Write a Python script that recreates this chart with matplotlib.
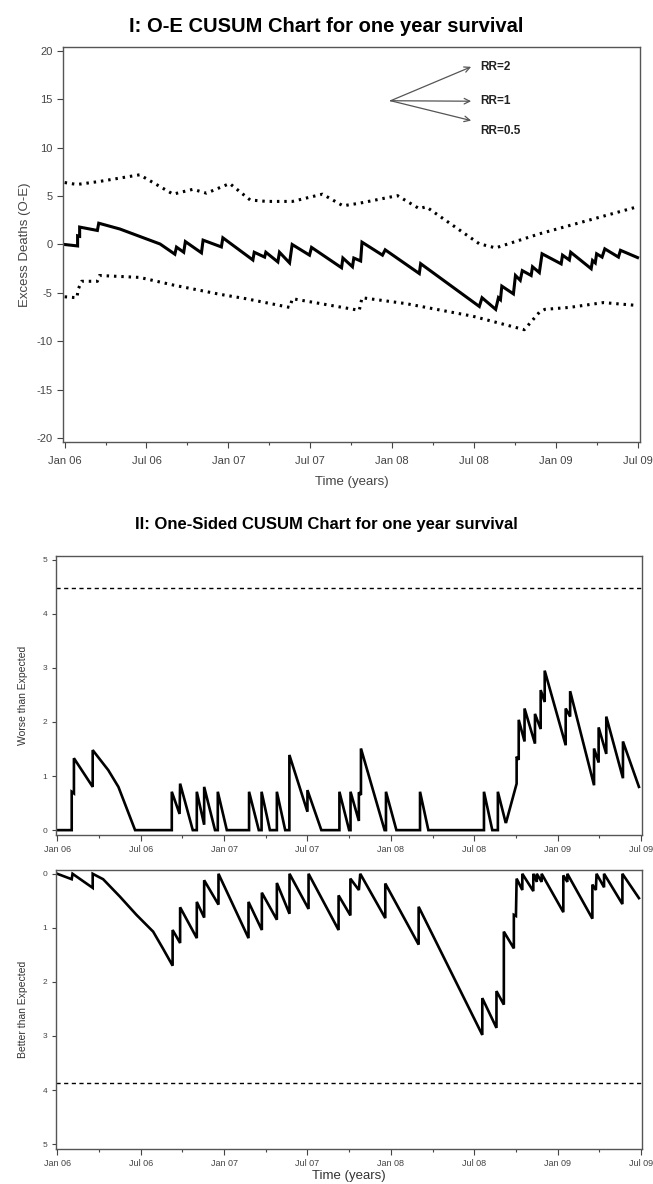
import matplotlib
matplotlib.use("Agg")
import matplotlib.pyplot as plt
from matplotlib.ticker import FixedLocator

plt.rcParams['font.family'] = ['Liberation Sans', 'DejaVu Sans']
plt.rcParams['axes.unicode_minus'] = False

# x positions are months since Jan 2006
tick_months = [0, 6, 12, 18, 24, 30, 36, 42]
tick_labels = ["Jan 06", "Jul 06", "Jan 07", "Jul 07", "Jan 08", "Jul 08", "Jan 09", "Jul 09"]

# Panel I: O-E CUSUM (RR=1) with RR=2 / RR=0.5 limits
oe_t = [0, 0.95, 0.95, 1.1, 1.1, 2.4, 2.5, 4.05, 7.0, 8.08, 8.2, 8.73, 8.85, 10.03, 10.15, 11.49, 11.6,
        13.8, 13.9, 14.66, 14.75, 15.63, 15.75, 16.49, 16.68, 17.95, 18.1, 20.3, 20.4, 21.1, 21.2,
        21.7, 21.8, 23.3, 23.5, 26.0, 26.1, 30.4, 30.6, 31.6, 31.8, 31.95, 32.05, 32.9, 33.05,
        33.4, 33.55, 34.2, 34.3, 34.8, 35.0, 36.4, 36.5, 37.0, 37.1, 38.6, 38.7, 38.9, 39.0,
        39.4, 39.6, 40.6, 40.75, 42.0]
oe_v = [0, -0.15, 0.9, 0.85, 1.8, 1.45, 2.2, 1.6, 0.05, -1.0, -0.27, -0.8, 0.3, -0.86, 0.45, -0.25, 0.69,
        -1.6, -0.8, -1.3, -0.8, -1.8, -0.8, -1.9, 0.0, -1.1, -0.3, -2.4, -1.4, -2.3, -1.4,
        -1.7, 0.24, -1.1, -0.55, -3.0, -1.98, -6.4, -5.5, -6.7, -5.5, -5.7, -4.3, -5.1, -3.2,
        -3.7, -2.7, -3.2, -2.3, -2.9, -0.96, -2.0, -1.1, -1.6, -0.8, -2.5, -1.65, -1.9, -0.96,
        -1.3, -0.45, -1.3, -0.6, -1.35]

upper_t = [0, 0.9, 2.5, 5.5, 7.95, 9.4, 10.4, 12.1, 13.6, 14.8, 16.7, 18.9, 20.4, 21.6, 24.4,
           26.0, 26.5, 30.4, 31.6, 34.8, 42.0]
upper_v = [6.4, 6.2, 6.5, 7.2, 5.2, 5.7, 5.3, 6.3, 4.6, 4.45, 4.45, 5.2, 4.0, 4.26, 5.05,
           3.7, 3.9, 0.07, -0.35, 1.1, 3.9]

lower_t = [0, 0.9, 1.0, 1.25, 2.4, 2.55, 5.5, 8.0, 11.4, 13.3, 16.5, 16.7, 21.6, 21.8, 25.0,
           29.9, 33.7, 34.8, 35.2, 37.0, 39.5, 42.0]
lower_v = [-5.4, -5.5, -4.6, -3.8, -3.8, -3.2, -3.4, -4.2, -5.15, -5.6, -6.5, -5.6, -6.8, -5.5, -6.1,
           -7.4, -8.8, -7.0, -6.7, -6.5, -6.0, -6.3]

rr_labels = ["RR=2", "RR=1", "RR=0.5"]

# Panel II (upper): worse than expected
worse_t = [0, 1.04, 1.04, 1.2, 1.2, 2.55, 2.55, 3.67, 4.4, 5.6, 8.24, 8.24, 8.8, 8.84, 9.75,
           10.04, 10.04, 10.57, 10.57, 11.35, 11.55, 11.55, 12.2, 13.8, 13.8, 14.5, 14.7, 14.7, 15.3,
           15.8, 15.8, 16.4, 16.7, 16.7, 18.0, 18.0, 19.0, 20.3, 20.3, 21.0, 21.1, 21.1, 21.7, 21.7,
           21.85, 21.85, 23.55, 23.65, 23.65, 24.4, 26.1, 26.1, 26.7, 30.7, 30.7, 31.3, 31.7, 31.7,
           32.25, 32.3, 33.05, 33.05, 33.2, 33.2, 33.62, 33.62, 34.37, 34.37, 34.78, 34.78, 35.07,
           35.07, 36.58, 36.58, 36.9, 36.9, 38.62, 38.62, 38.95, 38.95, 39.5, 39.5, 40.7, 40.7, 41.85]
worse_v = [0, 0, 0.71, 0.68, 1.33, 0.80, 1.48, 1.11, 0.8, 0, 0, 0.71, 0.3, 0.86, 0,
           0, 0.71, 0.1, 0.8, 0, 0, 0.71, 0, 0, 0.71, 0, 0, 0.71, 0,
           0, 0.71, 0, 0, 1.39, 0.34, 0.74, 0, 0, 0.71, 0, 0, 0.71, 0.17, 0.7,
           0.65, 1.51, 0, 0, 0.71, 0, 0, 0.71, 0, 0, 0.71, 0, 0, 0.71,
           0.15, 0.15, 0.86, 1.36, 1.3, 2.04, 1.64, 2.25, 1.6, 2.15, 1.87, 2.59, 2.37,
           2.95, 1.57, 2.25, 2.1, 2.57, 0.83, 1.51, 1.25, 1.9, 1.41, 2.1, 0.96, 1.64, 0.8]
worse_limit = 4.47

# Panel II (lower): better than expected (drawn downward)
better_t = [0, 1.04, 1.1, 2.55, 2.55, 3.3, 4.5, 5.7, 6.9, 7.6, 8.3, 8.3, 8.84, 8.84, 10.04, 10.04,
            10.57, 10.57, 11.6, 11.6, 13.76, 13.76, 14.72, 14.72, 15.8, 15.8, 16.71, 16.71, 18.08,
            18.08, 20.24, 20.24, 21.09, 21.09, 21.7, 21.8, 23.6, 23.6, 26.0, 26.0, 30.58, 30.58,
            31.6, 31.6, 32.13, 32.13, 32.85, 32.85, 33.0, 33.05, 33.46, 33.46, 34.25, 34.25, 34.5,
            34.5, 34.85, 34.85, 36.41, 36.41, 36.7, 36.7, 38.5, 38.5, 38.75, 38.8, 39.34, 39.34,
            40.66, 40.66, 41.85]
better_v = [0, 0.1, 0, 0.26, 0, 0.1, 0.42, 0.76, 1.07, 1.38, 1.70, 1.04, 1.28, 0.62, 1.19, 0.52,
            0.81, 0.12, 0.57, 0, 1.19, 0.52, 1.04, 0.35, 0.85, 0.17, 0.74, 0, 0.65,
            0, 1.04, 0.40, 0.77, 0.09, 0.3, 0, 0.82, 0.18, 1.31, 0.61, 2.98, 2.30,
            2.85, 2.17, 2.42, 1.07, 1.38, 0.76, 0.78, 0.09, 0.3, 0, 0.32, 0, 0.15,
            0, 0.15, 0, 0.71, 0.03, 0.15, 0, 0.83, 0.2, 0.3, 0, 0.25, 0,
            0.56, 0, 0.45]
better_limit = 3.87

W, H = 653, 1184
fig = plt.figure(figsize=(W / 100, H / 100), dpi=100)

def box(l, t, r, b):
    return [l / W, 1 - b / H, (r - l) / W, (b - t) / H]

def style_x(ax, size, pad):
    ax.set_xlim(-0.12, 42.18)
    ax.xaxis.set_major_locator(FixedLocator(tick_months))
    ax.xaxis.set_minor_locator(FixedLocator([3, 9, 15, 21, 27, 33, 39]))
    ax.set_xticklabels(tick_labels, fontsize=size, color='#444444')
    ax.tick_params(axis='x', which='major', length=4, width=0.8, pad=pad, colors='#444444')
    ax.tick_params(axis='x', which='minor', length=2.5, width=0.8, colors='#444444')
    for s in ax.spines.values():
        s.set_color('#555555')
        s.set_linewidth(1.0)

# ---- Panel I ----
ax1 = fig.add_axes(box(63, 47, 640, 442))
ax1.plot(oe_t, oe_v, color='black', lw=2.2, solid_joinstyle='miter')
ax1.plot(upper_t, upper_v, color='black', lw=2.2, linestyle=(0, (0.8, 1.6)))
ax1.plot(lower_t, lower_v, color='black', lw=2.2, linestyle=(0, (0.8, 1.6)))
ax1.set_ylim(-20.4, 20.4)
ax1.set_yticks([-20, -15, -10, -5, 0, 5, 10, 15, 20])
ax1.tick_params(axis='y', length=4, width=0.8, labelsize=8, colors='#444444')
style_x(ax1, 8, 6)
ax1.set_ylabel("Excess Deaths (O-E)", fontsize=9.5, color='#444444', labelpad=4)
ax1.set_xlabel("Time (years)", fontsize=9.5, color='#444444', labelpad=7)

ox, oy = 23.9, 14.85
for lab, ey, ty in zip(rr_labels, [18.35, 14.8, 12.8], [18.35, 14.8, 11.7]):
    ax1.annotate("", xy=(29.8, ey), xytext=(ox, oy),
                 arrowprops=dict(arrowstyle='->', color='#555555', lw=0.9,
                                 shrinkA=0, shrinkB=0))
    ax1.text(30.5, ty, lab, fontsize=8.5, fontweight='bold', va='center', ha='left', color='#222222')

fig.text(0.5, 1 - 27 / H, "I: O-E CUSUM Chart for one year survival",
         ha='center', va='center', fontsize=14.5, fontweight='bold')
fig.text(0.5, 1 - 525 / H, "II: One-Sided CUSUM Chart for one year survival",
         ha='center', va='center', fontsize=12, fontweight='bold')

# ---- Panel II upper ----
ax2 = fig.add_axes(box(56, 556, 642, 835))
ax2.plot(worse_t, worse_v, color='black', lw=1.9, solid_joinstyle='miter')
ax2.axhline(worse_limit, color='black', lw=1.0, linestyle=(0, (3, 2.5)))
ax2.set_ylim(-0.09, 5.07)
ax2.set_yticks([0, 1, 2, 3, 4, 5])
ax2.tick_params(axis='y', length=3, width=0.8, labelsize=6, colors='#444444')
style_x(ax2, 6.5, 3)
ax2.set_xlim(-0.09, 42.07)
ax2.set_ylabel("Worse than Expected", fontsize=7.5, color='#333333', labelpad=10)

# ---- Panel II lower ----
ax3 = fig.add_axes(box(56, 870, 642, 1149))
ax3.plot(better_t, better_v, color='black', lw=1.9, solid_joinstyle='miter')
ax3.axhline(better_limit, color='black', lw=1.0, linestyle=(0, (3, 2.5)))
ax3.set_ylim(5.09, -0.07)
ax3.set_yticks([0, 1, 2, 3, 4, 5])
ax3.tick_params(axis='y', length=3, width=0.8, labelsize=6, colors='#444444')
style_x(ax3, 6.5, 3)
ax3.set_xlim(-0.09, 42.07)
ax3.set_ylabel("Better than Expected", fontsize=7.5, color='#333333', labelpad=10)
ax3.set_xlabel("Time (years)", fontsize=9.5, color='#333333', labelpad=2)

fig.savefig("out.png", dpi=100)
